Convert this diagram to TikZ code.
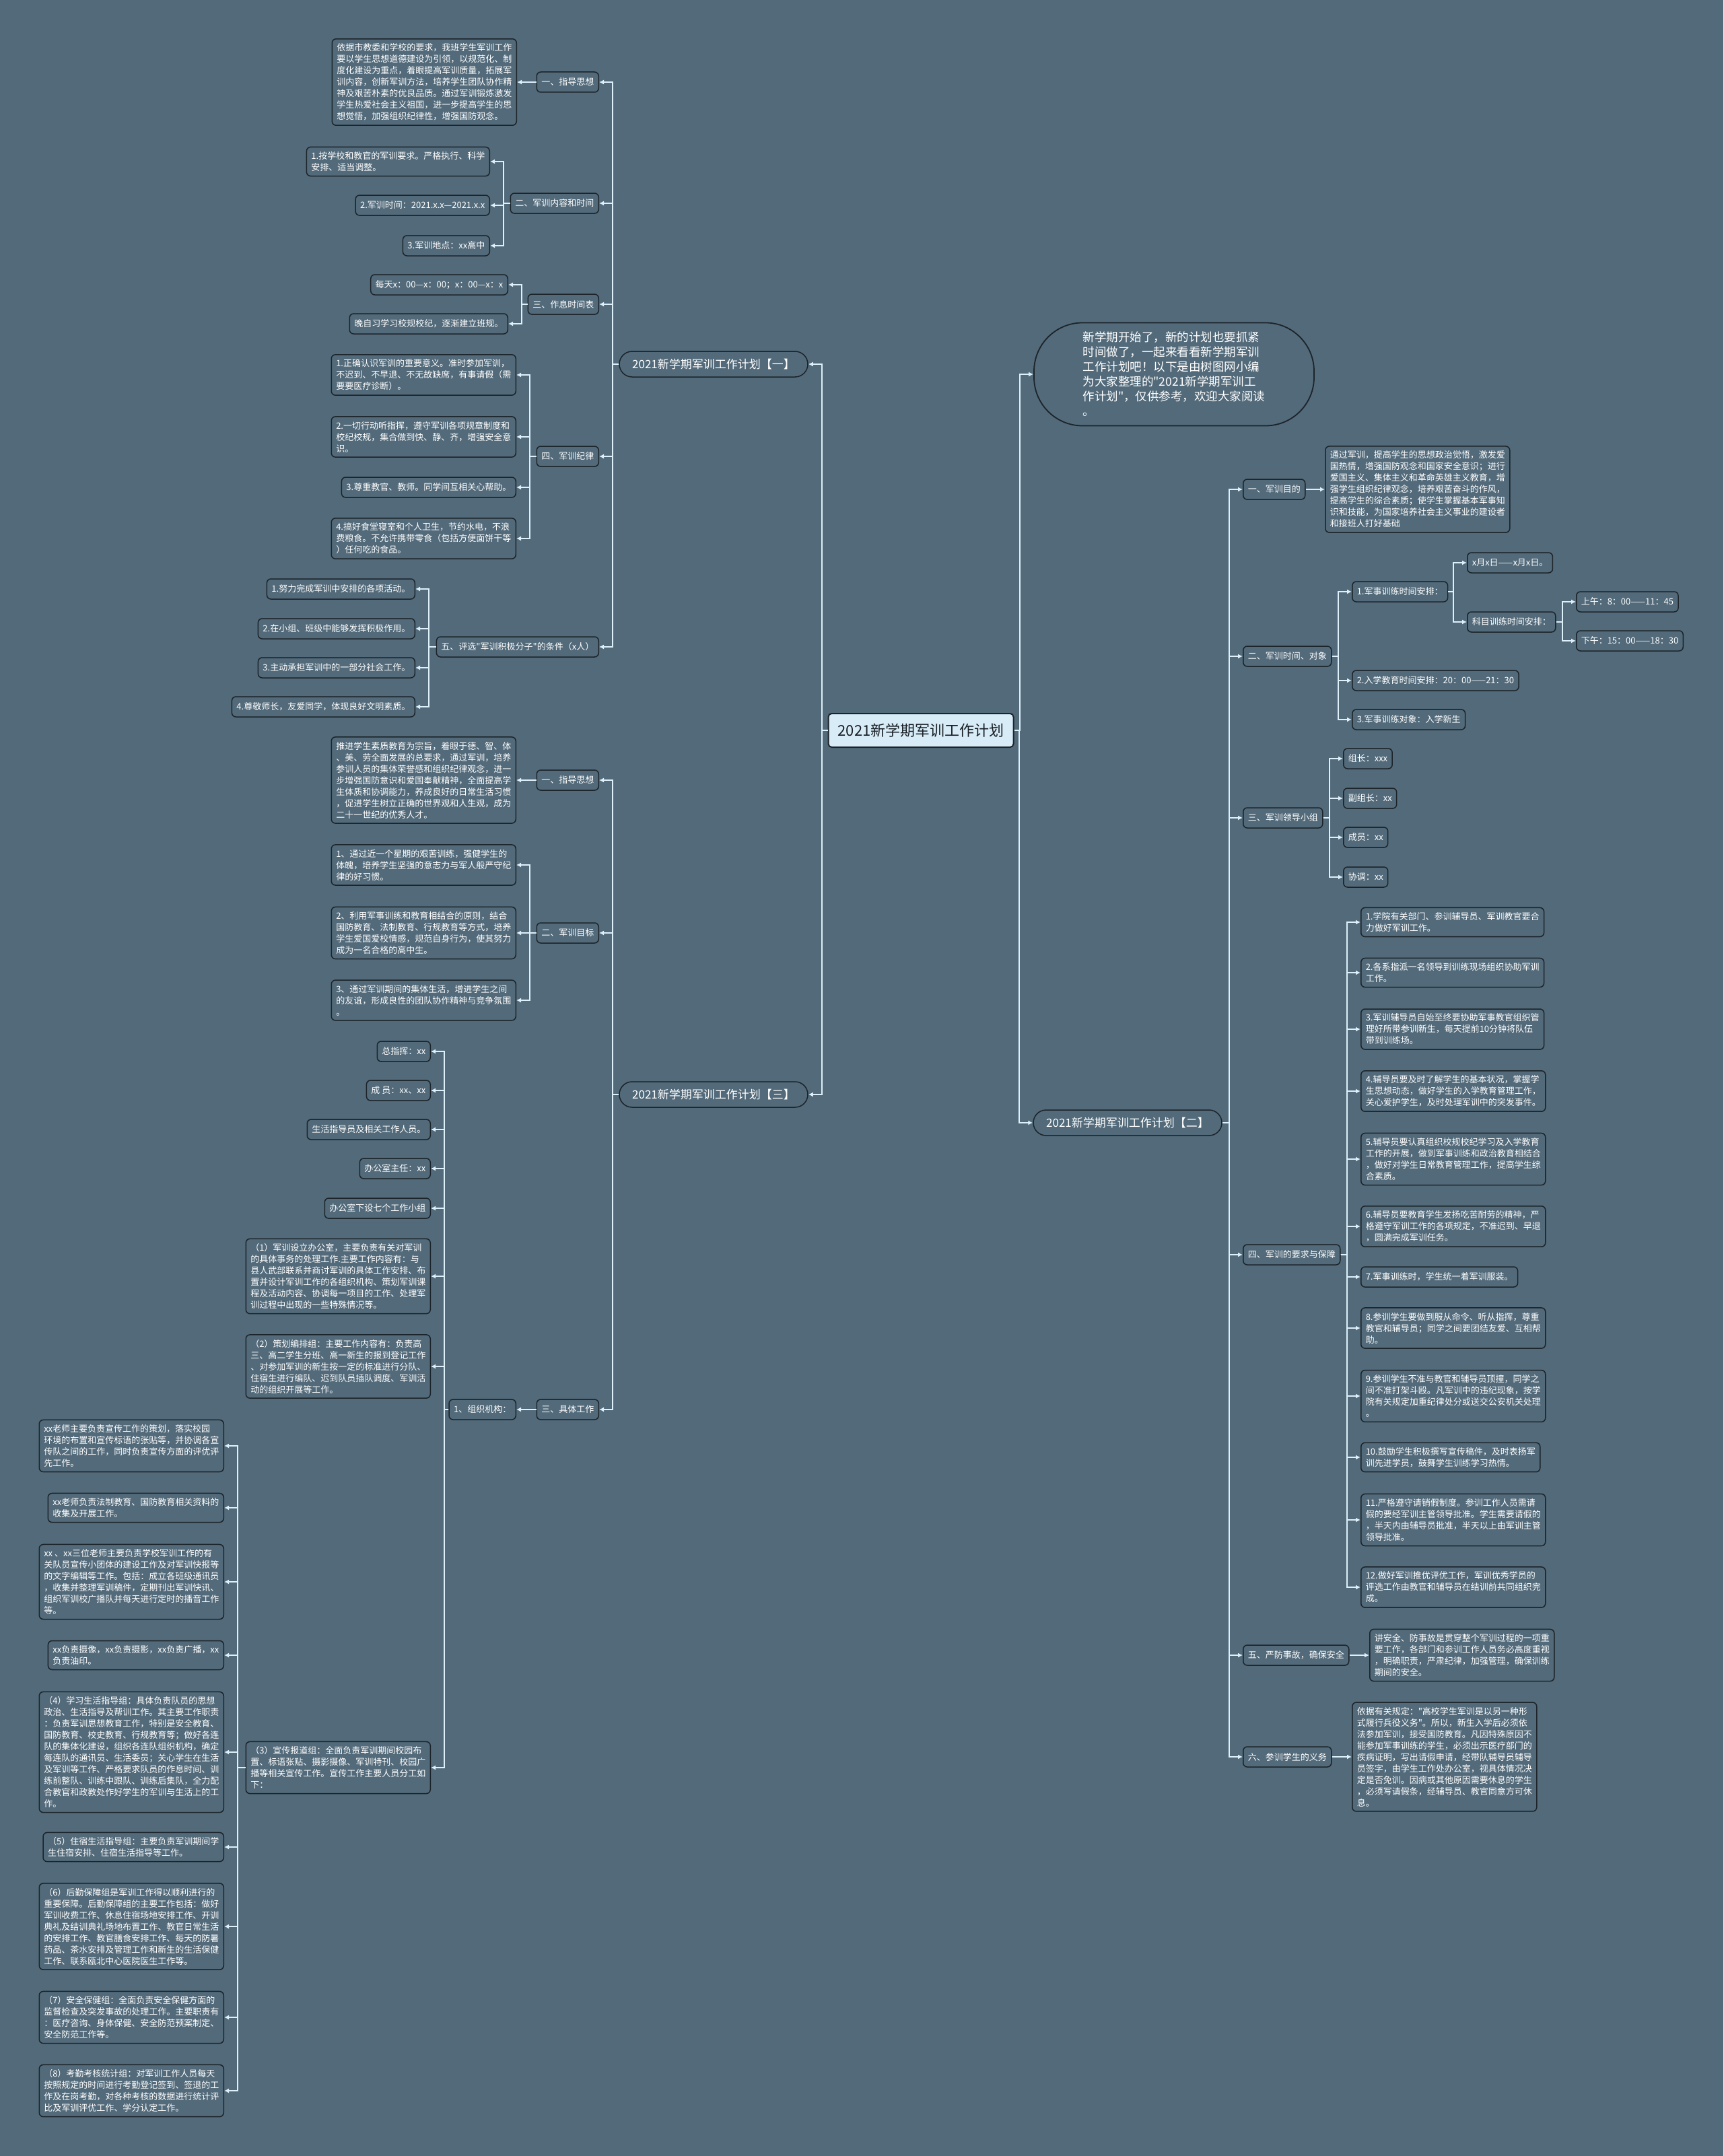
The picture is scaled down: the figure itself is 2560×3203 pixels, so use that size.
\documentclass[tikz,border=0pt]{standalone}
\usepackage{fontspec}
\setmainfont{Noto Sans CJK SC}[Ligatures=TeXOff]
\usetikzlibrary{arrows.meta,positioning}
\definecolor{bgc}{RGB}{82,106,122}
\definecolor{edgec}{RGB}{28,36,42}
\definecolor{linec}{RGB}{222,240,250}
\definecolor{rootc}{RGB}{216,236,248}
\definecolor{roott}{RGB}{24,30,36}

\begin{document}
\begin{tikzpicture}[x=1pt, y=-1pt,
  leaf/.style={draw=edgec, line width=1.5pt, fill=bgc, rounded corners=6pt, text=white, align=left, font=\fontsize{13}{17}\selectfont, inner xsep=7pt, inner ysep=7pt, minimum height=30pt},
  lleaf/.style={leaf, anchor=east},
  rleaf/.style={leaf, anchor=west},
  plan/.style={draw=edgec, line width=1.5pt, fill=bgc, rounded corners=19pt, text=white, font=\fontsize{17}{20}\selectfont, minimum width=280pt, minimum height=38pt},
  rootbox/.style={draw=edgec, line width=2pt, fill=rootc, rounded corners=5pt, text=roott, font=\fontsize{22}{26}\selectfont, minimum width=275pt, minimum height=50pt},
  introbox/.style={draw=edgec, line width=1.8pt, fill=bgc, rounded corners=72pt, text=white, align=left, font=\fontsize{17.5}{22}\selectfont, minimum width=416pt, minimum height=153pt},
  arr/.style={draw=linec, line width=2pt, -{Latex[length=7pt,width=7pt]}}
]
\useasboundingbox (0,0) rectangle (2560,3203);
\fill[bgc] (0,0) rectangle (2560,3203);

% centre
\node[rootbox] (root) at (1368,1085) {2021新学期军训工作计划};
\node[plan] (p1) at (1060,541) {2021新学期军训工作计划【一】};
\node[plan] (p3) at (1060,1626) {2021新学期军训工作计划【三】};
\node[plan] (p2) at (1675,1668) {2021新学期军训工作计划【二】};
\node[introbox] (intro) at (1744,556) {新学期开始了，新的计划也要抓紧\\时间做了，一起来看看新学期军训\\工作计划吧！以下是由树图网小编\\为大家整理的"2021新学期军训工\\作计划"，仅供参考，欢迎大家阅读\\。};

% plan one
\node[lleaf] (p1a) at (890,122) {一、指导思想};
\node[lleaf] (p1b) at (890,302) {二、军训内容和时间};
\node[lleaf] (p1c) at (890,452) {三、作息时间表};
\node[lleaf] (p1d) at (890,678) {四、军训纪律};
\node[lleaf] (p1e) at (890,961) {五、评选"军训积极分子"的条件（x人）};

\node[lleaf] (p1a1) at (768,122) {依据市教委和学校的要求，我班学生军训工作\\要以学生思想道德建设为引领，以规范化、制\\度化建设为重点，着眼提高军训质量，拓展军\\训内容，创新军训方法，培养学生团队协作精\\神及艰苦朴素的优良品质。通过军训锻炼激发\\学生热爱社会主义祖国，进一步提高学生的思\\想觉悟，加强组织纪律性，增强国防观念。};
\node[lleaf] (p1b1) at (728,240) {1.按学校和教官的军训要求。严格执行、科学\\安排、适当调整。};
\node[lleaf] (p1b2) at (728,305) {2.军训时间：2021.x.x—2021.x.x};
\node[lleaf] (p1b3) at (728,365) {3.军训地点：xx高中};
\node[lleaf] (p1c1) at (755,423) {每天x：00—x：00；x：00—x：x};
\node[lleaf] (p1c2) at (755,481) {晚自习学习校规校纪，逐渐建立班规。};
\node[lleaf] (p1d1) at (767,557) {1.正确认识军训的重要意义。准时参加军训，\\不迟到、不早退、不无故缺席，有事请假（需\\要要医疗诊断）。};
\node[lleaf] (p1d2) at (767,649) {2.一切行动听指挥，遵守军训各项规章制度和\\校纪校规，集合做到快、静、齐，增强安全意\\识。};
\node[lleaf] (p1d3) at (767,724) {3.尊重教官、教师。同学间互相关心帮助。};
\node[lleaf] (p1d4) at (767,800) {4.搞好食堂寝室和个人卫生，节约水电，不浪\\费粮食。不允许携带零食（包括方便面饼干等\\）任何吃的食品。};
\node[lleaf] (p1e1) at (617,875) {1.努力完成军训中安排的各项活动。};
\node[lleaf] (p1e2) at (617,934) {2.在小组、班级中能够发挥积极作用。};
\node[lleaf] (p1e3) at (617,992) {3.主动承担军训中的一部分社会工作。};
\node[lleaf] (p1e4) at (617,1050) {4.尊敬师长，友爱同学，体现良好文明素质。};

% plan three
\node[lleaf] (p3a) at (890,1159) {一、指导思想};
\node[lleaf] (p3b) at (890,1386) {二、军训目标};
\node[lleaf] (p3c) at (890,2094) {三、具体工作};
\node[lleaf] (p3a1) at (767,1159) {推进学生素质教育为宗旨，着眼于德、智、体\\、美、劳全面发展的总要求，通过军训，培养\\参训人员的集体荣誉感和组织纪律观念，进一\\步增强国防意识和爱国奉献精神，全面提高学\\生体质和协调能力，养成良好的日常生活习惯\\，促进学生树立正确的世界观和人生观，成为\\二十一世纪的优秀人才。};
\node[lleaf] (p3b1) at (767,1285) {1、通过近一个星期的艰苦训练，强健学生的\\体魄，培养学生坚强的意志力与军人般严守纪\\律的好习惯。};
\node[lleaf] (p3b2) at (767,1386) {2、利用军事训练和教育相结合的原则，结合\\国防教育、法制教育、行规教育等方式，培养\\学生爱国爱校情感，规范自身行为，使其努力\\成为一名合格的高中生。};
\node[lleaf] (p3b3) at (767,1486) {3、通过军训期间的集体生活，增进学生之间\\的友谊，形成良性的团队协作精神与竞争氛围\\。};
\node[lleaf] (org) at (767,2094) {1、组织机构：};

\node[lleaf] (g1) at (640,1562) {总指挥：xx};
\node[lleaf] (g2) at (640,1620) {成 员：xx、xx};
\node[lleaf] (g3) at (640,1678) {生活指导员及相关工作人员。};
\node[lleaf] (g4) at (640,1736) {办公室主任：xx};
\node[lleaf] (g5) at (640,1795) {办公室下设七个工作小组};
\node[lleaf] (g6) at (640,1896) {（1）军训设立办公室，主要负责有关对军训\\的具体事务的处理工作.主要工作内容有：与\\县人武部联系并商讨军训的具体工作安排、布\\置并设计军训工作的各组织机构、策划军训课\\程及活动内容、协调每一项目的工作、处理军\\训过程中出现的一些特殊情况等。};
\node[lleaf] (g7) at (640,2030) {（2）策划编排组：主要工作内容有：负责高\\三、高二学生分班、高一新生的报到登记工作\\、对参加军训的新生按一定的标准进行分队、\\住宿生进行编队、迟到队员插队调度、军训活\\动的组织开展等工作。};
\node[lleaf] (g8) at (640,2626) {（3）宣传报道组：全面负责军训期间校园布\\置、标语张贴、摄影摄像、军训特刊、校园广\\播等相关宣传工作。宣传工作主要人员分工如\\下：};

\node[lleaf] (h1) at (333,2148) {xx老师主要负责宣传工作的策划，落实校园\\环境的布置和宣传标语的张贴等，并协调各宣\\传队之间的工作，同时负责宣传方面的评优评\\先工作。};
\node[lleaf] (h2) at (333,2240) {xx老师负责法制教育、国防教育相关资料的\\收集及开展工作。};
\node[lleaf] (h3) at (333,2350) {xx 、xx三位老师主要负责学校军训工作的有\\关队员宣传小团体的建设工作及对军训快报等\\的文字编辑等工作。包括：成立各班级通讯员\\，收集并整理军训稿件，定期刊出军训快讯、\\组织军训校广播队并每天进行定时的播音工作\\等。};
\node[lleaf] (h4) at (333,2459) {xx负责摄像，xx负责摄影，xx负责广播，xx\\负责油印。};
\node[lleaf] (h5) at (333,2603) {（4）学习生活指导组：具体负责队员的思想\\政治、生活指导及帮训工作。其主要工作职责\\：负责军训思想教育工作，特别是安全教育、\\国防教育、校史教育、行规教育等；做好各连\\队的集体化建设，组织各连队组织机构，确定\\每连队的通讯员、生活委员；关心学生在生活\\及军训等工作、严格要求队员的作息时间、训\\练前整队、训练中跟队、训练后集队，全力配\\合教官和政教处作好学生的军训与生活上的工\\作。};
\node[lleaf] (h6) at (333,2744) {（5）住宿生活指导组：主要负责军训期间学\\生住宿安排、住宿生活指导等工作。};
\node[lleaf] (h7) at (333,2862) {（6）后勤保障组是军训工作得以顺利进行的\\重要保障。后勤保障组的主要工作包括：做好\\军训收费工作、休息住宿场地安排工作、开训\\典礼及结训典礼场地布置工作、教官日常生活\\的安排工作、教官膳食安排工作、每天的防暑\\药品、茶水安排及管理工作和新生的生活保健\\工作、联系瓯北中心医院医生工作等。};
\node[lleaf] (h8) at (333,2997) {（7）安全保健组：全面负责安全保健方面的\\监督检查及突发事故的处理工作。主要职责有\\：医疗咨询、身体保健、安全防范预案制定、\\安全防范工作等。};
\node[lleaf] (h9) at (333,3106) {（8）考勤考核统计组：对军训工作人员每天\\按照规定的时间进行考勤登记签到、签退的工\\作及在岗考勤，对各种考核的数据进行统计评\\比及军训评优工作、学分认定工作。};

% plan two
\node[rleaf] (p2a) at (1846,727) {一、军训目的};
\node[rleaf] (p2b) at (1846,975) {二、军训时间、对象};
\node[rleaf] (p2c) at (1846,1215) {三、军训领导小组};
\node[rleaf] (p2d) at (1846,1864) {四、军训的要求与保障};
\node[rleaf] (p2e) at (1846,2459) {五、严防事故，确保安全};
\node[rleaf] (p2f) at (1846,2610) {六、参训学生的义务};

\node[rleaf] (p2a1) at (1968,727) {通过军训，提高学生的思想政治觉悟，激发爱\\国热情，增强国防观念和国家安全意识；进行\\爱国主义、集体主义和革命英雄主义教育，增\\强学生组织纪律观念，培养艰苦奋斗的作风，\\提高学生的综合素质；使学生掌握基本军事知\\识和技能，为国家培养社会主义事业的建设者\\和接班人打好基础};
\node[rleaf] (p2b1) at (2008,879) {1.军事训练时间安排：};
\node[rleaf] (p2b2) at (2008,1011) {2.入学教育时间安排：20：00——21：30};
\node[rleaf] (p2b3) at (2008,1069) {3.军事训练对象：入学新生};
\node[rleaf] (days) at (2179,836) {x月x日——x月x日。};
\node[rleaf] (subj) at (2179,924) {科目训练时间安排：};
\node[rleaf] (am) at (2341,894) {上午：8：00——11：45};
\node[rleaf] (pm) at (2341,952) {下午：15：00——18：30};
\node[rleaf] (p2c1) at (1995,1127) {组长：xxx};
\node[rleaf] (p2c2) at (1995,1186) {副组长：xx};
\node[rleaf] (p2c3) at (1995,1244) {成员：xx};
\node[rleaf] (p2c4) at (1995,1303) {协调：xx};

\node[rleaf] (r1) at (2021,1370) {1.学院有关部门、参训辅导员、军训教官要合\\力做好军训工作。};
\node[rleaf] (r2) at (2021,1445) {2.各系指派一名领导到训练现场组织协助军训\\工作。};
\node[rleaf] (r3) at (2021,1529) {3.军训辅导员自始至终要协助军事教官组织管\\理好所带参训新生，每天提前10分钟将队伍\\带到训练场。};
\node[rleaf] (r4) at (2021,1621) {4.辅导员要及时了解学生的基本状况，掌握学\\生思想动态，做好学生的入学教育管理工作，\\关心爱护学生，及时处理军训中的突发事件。};
\node[rleaf] (r5) at (2021,1722) {5.辅导员要认真组织校规校纪学习及入学教育\\工作的开展，做到军事训练和政治教育相结合\\，做好对学生日常教育管理工作，提高学生综\\合素质。};
\node[rleaf] (r6) at (2021,1822) {6.辅导员要教育学生发扬吃苦耐劳的精神，严\\格遵守军训工作的各项规定，不准迟到、早退\\，圆满完成军训任务。};
\node[rleaf] (r7) at (2021,1897) {7.军事训练时，学生统一着军训服装。};
\node[rleaf] (r8) at (2021,1973) {8.参训学生要做到服从命令、听从指挥，尊重\\教官和辅导员；同学之间要团结友爱、互相帮\\助。};
\node[rleaf] (r9) at (2021,2074) {9.参训学生不准与教官和辅导员顶撞，同学之\\间不准打架斗殴。凡军训中的违纪现象，按学\\院有关规定加重纪律处分或送交公安机关处理\\。};
\node[rleaf] (r10) at (2021,2165) {10.鼓励学生积极撰写宣传稿件，及时表扬军\\训先进学员，鼓舞学生训练学习热情。};
\node[rleaf] (r11) at (2021,2258) {11.严格遵守请销假制度。参训工作人员需请\\假的要经军训主管领导批准。学生需要请假的\\，半天内由辅导员批准，半天以上由军训主管\\领导批准。};
\node[rleaf] (r12) at (2021,2358) {12.做好军训推优评优工作，军训优秀学员的\\评选工作由教官和辅导员在结训前共同组织完\\成。};

\node[rleaf] (p2e1) at (2034,2459) {讲安全、防事故是贯穿整个军训过程的一项重\\要工作，各部门和参训工作人员务必高度重视\\，明确职责，严肃纪律，加强管理，确保训练\\期间的安全。};
\node[rleaf] (p2f1) at (2008,2610) {依据有关规定："高校学生军训是以另一种形\\式履行兵役义务"。所以，新生入学后必须依\\法参加军训，接受国防教育。凡因特殊原因不\\能参加军事训练的学生，必须出示医疗部门的\\疾病证明，写出请假申请，经带队辅导员辅导\\员签字，由学生工作处办公室，视具体情况决\\定是否免训。因病或其他原因需要休息的学生\\，必须写请假条，经辅导员、教官同意方可休\\息。};

% connectors, left side
\foreach \c in {p1,p3}
  \draw[arr] (root.west) -| ([xshift=20pt]\c.east) -- (\c.east);
\foreach \c in {p1a,p1b,p1c,p1d,p1e}
  \draw[arr] (p1.west) -| ([xshift=20pt]\c.east) -- (\c.east);
\draw[arr] (p1a.west) -- (p1a1.east);
\foreach \c in {p1b1,p1b2,p1b3}
  \draw[arr] (p1b.west) -| ([xshift=20pt]\c.east) -- (\c.east);
\foreach \c in {p1c1,p1c2}
  \draw[arr] (p1c.west) -| ([xshift=20pt]\c.east) -- (\c.east);
\foreach \c in {p1d1,p1d2,p1d3,p1d4}
  \draw[arr] (p1d.west) -| ([xshift=20pt]\c.east) -- (\c.east);
\foreach \c in {p1e1,p1e2,p1e3,p1e4}
  \draw[arr] (p1e.west) -| ([xshift=20pt]\c.east) -- (\c.east);
\foreach \c in {p3a,p3b,p3c}
  \draw[arr] (p3.west) -| ([xshift=20pt]\c.east) -- (\c.east);
\draw[arr] (p3a.west) -- (p3a1.east);
\foreach \c in {p3b1,p3b2,p3b3}
  \draw[arr] (p3b.west) -| ([xshift=20pt]\c.east) -- (\c.east);
\draw[arr] (p3c.west) -- (org.east);
\foreach \c in {g1,g2,g3,g4,g5,g6,g7,g8}
  \draw[arr] (org.west) -| ([xshift=20pt]\c.east) -- (\c.east);
\foreach \c in {h1,h2,h3,h4,h5,h6,h7,h8,h9}
  \draw[arr] (g8.west) -| ([xshift=20pt]\c.east) -- (\c.east);

% connectors, right side
\foreach \c in {intro,p2}
  \draw[arr] (root.east) -| ([xshift=-20pt]\c.west) -- (\c.west);
\foreach \c in {p2a,p2b,p2c,p2d,p2e,p2f}
  \draw[arr] (p2.east) -| ([xshift=-20pt]\c.west) -- (\c.west);
\draw[arr] (p2a.east) -- (p2a1.west);
\foreach \c in {p2b1,p2b2,p2b3}
  \draw[arr] (p2b.east) -| ([xshift=-20pt]\c.west) -- (\c.west);
\foreach \c in {days,subj}
  \draw[arr] (p2b1.east) -| ([xshift=-20pt]\c.west) -- (\c.west);
\foreach \c in {am,pm}
  \draw[arr] (subj.east) -| ([xshift=-20pt]\c.west) -- (\c.west);
\foreach \c in {p2c1,p2c2,p2c3,p2c4}
  \draw[arr] (p2c.east) -| ([xshift=-20pt]\c.west) -- (\c.west);
\foreach \c in {r1,r2,r3,r4,r5,r6,r7,r8,r9,r10,r11,r12}
  \draw[arr] (p2d.east) -| ([xshift=-20pt]\c.west) -- (\c.west);
\draw[arr] (p2e.east) -- (p2e1.west);
\draw[arr] (p2f.east) -- (p2f1.west);
\end{tikzpicture}
\end{document}
